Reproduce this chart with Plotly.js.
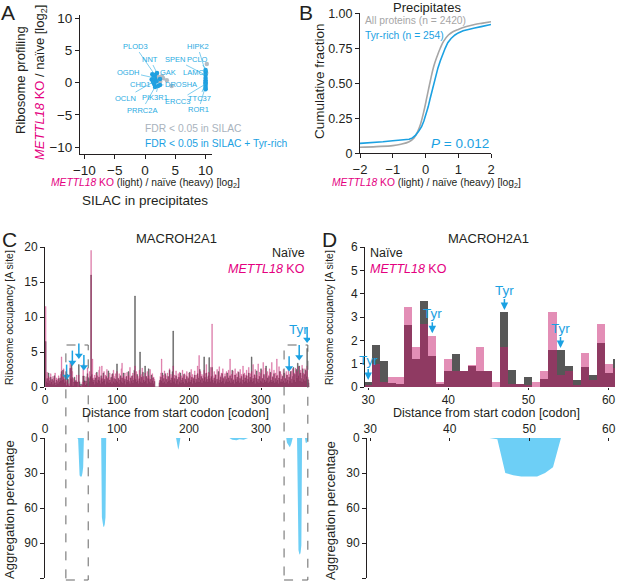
<!DOCTYPE html>
<html>
<head>
<meta charset="utf-8">
<script src="https://cdn.plot.ly/plotly-3.0.1.min.js"></script>
<style>body{margin:0;background:#fff}#fig{width:617px;height:585px}</style>
</head>
<body>
<div id="fig"></div>
<script>
// ---- panel A: SILAC vs ribosome profiling ----
var sigX = [1.9, 2.5, 3.0, 3.6, 4.4, 2.2, 2.8, 10.2, 10.1];
var sigY = [1.4, 0.15, 0.68, 0.4, -0.5, 0.9, 1.0, 2.9, 1.5];
var tyrX = [1.65, 1.98, 1.65, 2.48, 1.49, 2.48, 1.32, 2.15, 1.65, 1.2, 1.4, 1.8, 1.1, 1.9, 1.5,
            10, 10, 10, 10, 10, 10, 10, 10, 10, 10, 10];
var tyrY = [1.19, 1.5, 0.73, 0.57, 0.1, -0.36, 0.1, -0.5, -0.67, 1.3, 0.9, 0.4, 0.5, 0.2, -0.2,
            1.97, 1.66, 1.19, 0.73, 0.4, 0.1, -0.05, -0.2, -0.5, -0.8, -1.0];
var geneNames = ['PLOD3', 'NNT', 'OGDH', 'GAK', 'CHD1', 'DROSHA', 'OCLN', 'PIK3R1', 'PRRC2A',
                 'SPEN', 'HIPK2', 'PCLO', 'LAMC2', 'ERCC3', 'TTC37', 'ROR1'];
var geneX = [1.65, 1.98, 1.65, 2.48, 1.49, 2.48, 1.32, 2.15, 1.65, 10, 10, 10.2, 10, 10, 10, 10];
var geneY = [1.19, 1.5, 0.73, 0.57, 0.1, -0.36, 0.1, -0.5, -0.67, 1.19, 1.66, 1.97, 0.73, -0.2, -0.05, -0.5];

// ---- panel B: cumulative fraction ----
var allX = [-2, -1.5, -1, -0.75, -0.5, -0.35, -0.25, -0.15, -0.05, 0.05, 0.15, 0.25, 0.35, 0.45,
            0.55, 0.7, 0.85, 1, 1.25, 1.5, 1.75, 2];
var allY = [0.043, 0.048, 0.055, 0.065, 0.083, 0.11, 0.15, 0.21, 0.3, 0.41, 0.52, 0.62, 0.69, 0.75,
            0.8, 0.845, 0.87, 0.885, 0.905, 0.92, 0.93, 0.94];
var tyrCdfX = [-2, -1.6, -1.3, -1.0, -0.7, -0.5, -0.4, -0.3, -0.2, -0.12, -0.05, 0.02, 0.08, 0.14, 0.2,
               0.26, 0.32, 0.38, 0.45, 0.52, 0.6, 0.68, 0.78, 0.9, 1.0, 1.15, 1.3, 1.5, 1.7, 2];
var tyrCdfY = [0.071, 0.075, 0.083, 0.09, 0.093, 0.1, 0.11, 0.13, 0.16, 0.19, 0.23, 0.28, 0.33, 0.39, 0.45,
               0.51, 0.56, 0.61, 0.66, 0.71, 0.75, 0.79, 0.82, 0.845, 0.86, 0.875, 0.885, 0.895, 0.905, 0.92];

// ---- panels C/D: ribosome occupancy per codon (codon 0..367) ----
var naive = [
 0, 6.5, 0.8, 1.2, 0.6, 2.0, 0.9, 0.5, 1.4, 0.7,
 1.1, 0.4, 0.9, 1.6, 0.6, 0.3, 1.0, 0.8, 0.5, 1.2,
 0.7, 1.3, 0.9, 2.2, 1.0, 2.4, 1.1, 0.6, 1.5, 0.8,
 0.2, 1.8, 1.1, 0.18, 0.15, 2.67, 1.2, 3.67, 1.35, 0.15,
 0.7, 1.4, 0.7, 0.9, 0.7, 0.7, 0, 3.2, 0.75, 0.15,
 0.43, 0, 0.35, 1.57, 1.57, 0.9, 0.3, 0.85, 0.5, 1.9,
 0.6, 1.2, 0.8, 1.5, 16.0, 1.8, 1.2, 0.7, 1.0, 0.4,
 1.3, 0.8, 2.1, 0.6, 1.0, 1.4, 0.9, 0.5, 1.6, 1.2,
 0.7, 2.0, 0.9, 1.1, 0.4, 1.5, 0.8, 1.2, 2.3, 0.6,
 1.0, 0.7, 1.4, 0.5, 1.9, 0.8, 1.2, 0.6, 1.1, 0.9,
 3.3, 0.7, 1.2, 0.5, 1.0, 1.6, 0.8, 1.3, 0.6, 2.0,
 0.9, 1.1, 0.4, 1.5, 0.7, 1.0, 2.2, 0.8, 0.5, 1.3,
 0.9, 1.6, 0.6, 1.0, 2.4, 13.0, 1.1, 0.7, 1.8, 0.9,
 0.5, 1.2, 5.0, 0.8, 1.4, 0.6, 2.1, 1.0, 0.7, 3.0,
 0.9, 1.5, 0.5, 1.2, 2.6, 0.8, 1.1, 0.6, 1.7, 0.9,
 1.3, 0.5, 0.8, 0, 0, 0, 0, 0, 0, 0.6,
 1.0, 1.4, 0.9, 2.0, 0.6, 1.2, 0.8, 1.9, 0.5, 1.1,
 0.7, 1.5, 0.9, 2.4, 1.0, 0.6, 1.3, 2.2, 8.0, 0.8,
 1.2, 0.5, 1.6, 0.9, 1.1, 0.4, 1.4, 0.8, 2.0, 0.6,
 1.0, 1.3, 0.7, 1.8, 0.5, 1.1, 0.9, 1.5, 0.6, 1.2,
 0.8, 2.1, 0.7, 1.0, 1.4, 0.5, 1.2, 0.9, 1.7, 0.6,
 1.1, 0.8, 1.9, 1.3, 0.7, 2.5, 1.0, 1.5, 0.6, 1.2,
 0.9, 4.3, 1.4, 0.8, 2.0, 1.1, 0.7, 1.6, 4.2, 1.2,
 0.8, 1.5, 2.8, 1.0, 0.6, 1.3, 0.9, 1.7, 0.5, 1.1,
 0.8, 2.2, 0.6, 1.0, 1.4, 0.7, 1.9, 0.9, 1.2, 0.5,
 1.5, 0.8, 1.1, 2.0, 0.7, 1.3, 0.9, 1.6, 0.6, 1.2,
 2.4, 0.8, 1.0, 0.5, 1.7, 1.1, 0.7, 1.4, 0.9, 2.1,
 0.6, 1.2, 0.8, 1.5, 0.5, 1.0, 1.8, 0.7, 1.3, 0.9,
 1.6, 0.6, 1.1, 2.0, 0.8, 1.4, 1.0, 4.3, 0.7, 1.2,
 0.9, 1.7, 0.5, 1.3, 2.3, 0.8, 1.1, 0.6, 1.5, 0.9,
 2.6, 0.8, 1.2, 0.6, 1.8, 1.0, 0.7, 3.0, 0.9, 1.3,
 0.6, 1.5, 0.8, 2.1, 1.0, 0.7, 1.4, 0.9, 1.9, 0.6,
 1.2, 0.8, 1.6, 1.0, 0.5, 1.3, 2.2, 0.8, 1.1, 0.7,
 1.5, 0.9, 2.0, 0.6, 1.2, 0.8, 1.7, 1.0, 0.5, 1.4,
 0.9, 2.2, 1.1, 0.6, 1.5, 2.8, 1.0, 1.8, 0.7, 2.5,
 1.3, 3.4, 1.6, 3.0, 0.9, 2.0, 1.2, 0.7, 2.6, 1.1,
 1.8, 0.9, 2.4, 1.5, 5.5, 1.0, 0.6, 0
];
var ko = [
 0, 11.5, 1.0, 2.1, 0.8, 1.5, 1.3, 0.7, 1.9, 1.0,
 0.6, 1.5, 1.2, 0.8, 2.0, 0.5, 1.3, 1.1, 0.9, 1.6,
 1.0, 0.7, 1.8, 4.3, 1.4, 1.2, 2.6, 0.9, 1.1, 1.7,
 0.1, 1.0, 0.2, 0.45, 0.45, 3.43, 1.7, 2.7, 2.2, 0.2,
 1.2, 0.7, 0.7, 0.95, 1.7, 0.7, 0.2, 1.7, 0.15, 0.15,
 0.1, 0.2, 0.7, 3.2, 0.5, 0.7, 0.1, 1.47, 0.28, 2.7,
 1.0, 0.8, 2.2, 1.0, 19.5, 1.2, 4.0, 1.3, 0.6, 1.7,
 0.9, 2.0, 1.2, 1.6, 0.7, 2.4, 2.9, 1.0, 1.3, 3.0,
 1.1, 1.5, 2.2, 0.8, 1.7, 1.2, 2.5, 0.9, 1.4, 1.0,
 2.0, 1.2, 0.8, 1.8, 1.1, 2.4, 0.7, 1.5, 1.9, 1.0,
 2.2, 1.3, 0.9, 1.9, 1.4, 1.1, 2.6, 3.4, 1.0, 1.5,
 1.2, 2.0, 0.8, 1.4, 2.1, 0.9, 1.6, 1.3, 2.8, 1.0,
 1.5, 0.8, 2.0, 1.2, 1.7, 3.0, 1.3, 2.2, 0.9, 1.5,
 1.1, 2.4, 1.6, 1.0, 1.8, 2.7, 1.2, 1.5, 0.8, 2.0,
 1.4, 1.0, 2.2, 0.9, 1.6, 1.3, 2.5, 1.0, 1.2, 1.9,
 0.8, 1.4, 1.1, 0, 0, 0, 0, 0, 0, 0.9,
 1.5, 2.0, 4.0, 1.3, 1.7, 1.0, 2.3, 1.2, 1.6, 0.9,
 2.0, 1.1, 1.4, 2.6, 1.2, 1.8, 0.9, 1.5, 3.0, 1.3,
 1.7, 1.0, 2.3, 1.4, 0.8, 1.9, 1.2, 2.1, 1.0, 1.6,
 1.3, 2.4, 1.0, 1.5, 1.9, 0.8, 1.7, 2.2, 1.1, 1.4,
 2.0, 1.0, 1.6, 2.5, 1.2, 1.8, 0.9, 1.4, 2.3, 1.1,
 1.7, 1.3, 3.0, 1.5, 4.5, 1.0, 2.2, 1.3, 1.8, 1.0,
 1.6, 2.4, 1.2, 1.9, 3.2, 1.4, 1.0, 2.1, 2.0, 1.5,
 2.8, 1.2, 9.0, 1.6, 1.1, 2.2, 1.4, 1.8, 1.0, 2.5,
 1.3, 1.7, 2.9, 1.1, 1.6, 2.0, 1.2, 2.6, 1.4, 1.0,
 1.9, 1.3, 2.2, 1.5, 1.0, 2.4, 1.3, 4.0, 1.2, 1.8,
 1.5, 2.3, 1.1, 1.7, 2.6, 1.3, 1.9, 1.0, 2.2, 1.6,
 1.2, 2.5, 1.4, 1.8, 1.0, 3.0, 1.5, 2.0, 1.3, 1.7,
 2.4, 1.1, 1.6, 2.8, 1.3, 1.9, 1.0, 2.2, 1.5, 3.2,
 1.2, 1.8, 2.5, 1.4, 1.7, 1.1, 3.3, 1.5, 2.1, 1.3,
 1.9, 2.4, 1.2, 3.5, 1.6, 1.0, 2.7, 1.4, 1.9, 2.2,
 1.1, 1.7, 2.6, 1.3, 2.0, 3.5, 1.5, 1.2, 2.4, 1.6,
 2.0, 1.3, 4.0, 1.7, 1.2, 2.9, 1.5, 2.2, 1.8, 1.1,
 1.6, 2.5, 1.3, 1.9, 1.0, 2.2, 1.4, 1.7, 2.8, 1.2,
 1.8, 1.4, 2.3, 1.1, 2.6, 1.6, 2.0, 1.3, 2.7, 1.5,
 2.2, 1.4, 2.9, 1.8, 1.2, 2.4, 1.6, 3.1, 1.5, 2.0,
 1.3, 2.6, 1.7, 2.2, 3.0, 1.4, 1.0, 0
];
var tyrCodons = [30, 38, 47, 54, 339, 353, 364];
var boxCodons = [[29, 60], [332, 365]];

// aggregation percentage (sparse, codon / percent)
var aggCodon = [0, 45, 46, 47, 48, 49, 50, 51, 52, 53, 54,
                78, 79, 80, 81, 82, 83, 84, 85,
                182, 184, 185, 186, 188,
                256, 260, 266, 270, 276, 282,
                335, 336, 338, 340, 342, 344,
                350, 351, 352, 353, 354, 355, 356, 357,
                361, 362, 364, 365, 368];
var aggPct = [0, 0, 1, 30, 32, 33, 33, 33, 30, 25, 0,
              0, 68, 74, 76, 76, 74, 68, 0,
              0, 9, 10, 8, 0,
              0, 1.5, 2, 1, 1.5, 0,
              0, 4, 6, 8, 5, 0,
              0, 90, 96, 99, 100, 98, 92, 0,
              0, 4, 4, 0, 0];

var W = 617, H = 585;
function fx(p) { return p / W; }
function fy(p) { return 1 - p / H; }

var ink = '#231f20';
var magenta = '#e4007f';
var blue = '#1ba1e2';
var gray = '#575757';
var pink = 'rgba(200,30,110,0.5)';
var sans = 'Liberation Sans, Arial, sans-serif';
var mk = '<span style="color:' + magenta + '"><i>METTL18</i> KO</span>';

function ax(extra) {
    return Object.assign({
        showgrid: false, zeroline: false, showline: true, linecolor: ink, linewidth: 1,
        ticks: 'outside', ticklen: 4, tickwidth: 1, tickcolor: ink,
        tickfont: {family: sans, size: 12, color: ink}, fixedrange: true
    }, extra);
}

// Tyr arrows in panel C: shaft + head drawn on the C axes
var shaftX = [], shaftY = [], headX = [], headY = [];
tyrCodons.forEach(function (c) {
    var tip = Math.max(naive[c], ko[c]) + 0.8;
    shaftX.push(c, c, null);
    shaftY.push(tip + 2.2, tip + 0.6, null);
    headX.push(c);
    headY.push(tip + 0.5);
});

var traces = [
    {x: sigX, y: sigY, type: 'scatter', mode: 'markers', xaxis: 'x', yaxis: 'y',
     marker: {size: 4.5, color: '#b4bcc4'}},
    {x: tyrX, y: tyrY, type: 'scatter', mode: 'markers', xaxis: 'x', yaxis: 'y',
     marker: {size: 4.5, color: '#1f9fe0'}},
    {x: allX, y: allY, type: 'scatter', mode: 'lines', xaxis: 'x2', yaxis: 'y2',
     line: {color: '#a6a6a6', width: 1.6, shape: 'spline'}},
    {x: tyrCdfX, y: tyrCdfY, type: 'scatter', mode: 'lines', xaxis: 'x2', yaxis: 'y2',
     line: {color: blue, width: 1.6}},
    {y: naive, x0: 0, dx: 1, type: 'scatter', mode: 'lines', fill: 'tozeroy', xaxis: 'x3', yaxis: 'y3',
     line: {color: gray, width: 0.5, shape: 'hvh'}, fillcolor: gray},
    {y: ko, x0: 0, dx: 1, type: 'scatter', mode: 'lines', fill: 'tozeroy', xaxis: 'x3', yaxis: 'y3',
     line: {color: pink, width: 0.5, shape: 'hvh'}, fillcolor: pink},
    {x: shaftX, y: shaftY, type: 'scatter', mode: 'lines', xaxis: 'x3', yaxis: 'y3',
     line: {color: blue, width: 1.5}},
    {x: headX, y: headY, type: 'scatter', mode: 'markers', xaxis: 'x3', yaxis: 'y3',
     marker: {symbol: 'triangle-down', size: 7, color: blue}},
    {y: naive, x0: 0, dx: 1, type: 'bar', xaxis: 'x4', yaxis: 'y4', marker: {color: gray, line: {width: 0}}},
    {y: ko, x0: 0, dx: 1, type: 'bar', xaxis: 'x4', yaxis: 'y4', marker: {color: pink, line: {width: 0}}},
    {x: aggCodon, y: aggPct, type: 'scatter', mode: 'lines', fill: 'tozeroy', xaxis: 'x5', yaxis: 'y5',
     line: {width: 0, color: '#6dcff6'}, fillcolor: '#6dcff6'},
    {x: aggCodon, y: aggPct, type: 'scatter', mode: 'lines', fill: 'tozeroy', xaxis: 'x6', yaxis: 'y6',
     line: {width: 0, color: '#6dcff6'}, fillcolor: '#6dcff6'}
];

function txt(t, x, y, o) {
    return Object.assign({text: t, x: fx(x), y: fy(y), xref: 'paper', yref: 'paper', showarrow: false,
        xanchor: 'center', yanchor: 'middle', font: {family: sans, size: 13, color: ink}}, o || {});
}
function f(size, color) { return {family: sans, size: size, color: color || ink}; }

var notes = [
    txt('A', 8, 12, {font: f(21)}),
    txt('B', 306, 12, {font: f(21)}),
    txt('C', 9, 239, {font: f(21)}),
    txt('D', 329, 239, {font: f(21)}),
    txt('Ribosome profiling', 21, 80, {textangle: -90}),
    txt(mk + ' / naïve [log<sub>2</sub>]', 41, 83, {textangle: -90}),
    txt(mk + ' (light) / naïve (heavy) [log<sub>2</sub>]', 145, 183, {font: f(10.3)}),
    txt('SILAC in precipitates', 145, 200, {font: f(13.5)}),
    txt('FDR < 0.05 in SILAC', 143, 128, {xanchor: 'left', font: f(10.3, '#a9b3bd')}),
    txt('FDR < 0.05 in SILAC + Tyr-rich', 143, 143, {xanchor: 'left', font: f(10.3, blue)}),
    txt('Precipitates', 427, 8),
    txt('All proteins (n = 2420)', 363, 21, {xanchor: 'left', font: f(10.3, '#a6a6a6')}),
    txt('Tyr-rich (n = 254)', 363, 35, {xanchor: 'left', font: f(10.3, blue)}),
    txt('<i>P</i> = 0.012', 491, 143, {xanchor: 'right', font: f(13.5, blue)}),
    txt(mk + ' (light) / naïve (heavy) [log<sub>2</sub>]', 426, 183, {font: f(10.3)}),
    txt('Cumulative fraction', 320, 81, {textangle: -90, font: f(13.5)}),
    txt('MACROH2A1', 177, 238),
    txt('Naïve', 307, 253, {xanchor: 'right', font: f(12.5)}),
    txt(mk, 307, 269, {xanchor: 'right', font: f(12.5)}),
    txt('Ribosome occupancy [A site]', 9, 318, {textangle: -90, font: f(10.5)}),
    txt('Distance from start codon [codon]', 175, 413, {font: f(12.5)}),
    txt('Tyr', 298, 329, {font: f(13.5, blue)}),
    txt('Aggregation percentage', 9, 510, {textangle: -90}),
    txt('MACROH2A1', 488, 238),
    txt('Naïve', 368, 253, {xanchor: 'left', font: f(12.5)}),
    txt(mk, 368, 269, {xanchor: 'left', font: f(12.5)}),
    txt('Ribosome occupancy [A site]', 329, 318, {textangle: -90, font: f(10.5)}),
    txt('Distance from start codon [codon]', 487, 413, {font: f(12.5)}),
    txt('Aggregation percentage', 330, 510, {textangle: -90})
];

// gene labels with leader lines (pixel offsets of each label from its point)
var labelAx = [-20, -7, -27, 8, -14, 21, -28, -3, -13, -31, -8, -9, -10, -28, -6, -7];
var labelAy = [-29, -14, -6, -7, 2, -1, 16, 12, 23, -16, -26, -11, -6, 17, 15, 24];
geneNames.forEach(function (g, i) {
    notes.push({text: g, x: geneX[i], y: geneY[i], xref: 'x', yref: 'y', ax: labelAx[i], ay: labelAy[i],
        showarrow: true, arrowhead: 0, arrowwidth: 0.6, arrowcolor: '#29abe2', standoff: 0,
        font: f(7.5, '#29abe2')});
});

// Tyr labels with arrows in panel D
tyrCodons.forEach(function (c) {
    if (c > 60) return;
    var top = Math.max(naive[c], ko[c]);
    notes.push({text: 'Tyr', x: c, y: top + 0.1, xref: 'x4', yref: 'y4', ax: 0, ay: -20,
        showarrow: true, arrowhead: 2, arrowsize: 1, arrowwidth: 1.5, arrowcolor: blue, standoff: 0,
        font: f(13.5, blue)});
});

var cDom = [fx(45), fx(310)], cRange = [0, 368];
function codonPaper(c) { return cDom[0] + (c - cRange[0]) / (cRange[1] - cRange[0]) * (cDom[1] - cDom[0]); }
var boxTop = fy(387) + 6 / 20 * (fy(247) - fy(387));
var shapes = boxCodons.map(function (b) {
    return {type: 'rect', xref: 'paper', yref: 'paper', x0: codonPaper(b[0]), x1: codonPaper(b[1]),
        y0: fy(580), y1: boxTop, line: {color: '#666', width: 1, dash: 'dash'}};
});

var layout = {
    width: W, height: H, margin: {l: 0, r: 0, t: 0, b: 0},
    paper_bgcolor: '#fff', plot_bgcolor: 'rgba(0,0,0,0)',
    showlegend: false, barmode: 'overlay', bargap: 0,
    font: {family: sans, color: ink},
    xaxis: ax({domain: [fx(80), fx(212)], range: [-10.73, 11.06], tickvals: [-10, -5, 0, 5, 10], anchor: 'y',
        tickfont: f(13.5)}),
    yaxis: ax({domain: [fy(154), fy(15)], range: [-11.05, 10.5], tickvals: [-10, -5, 0, 5, 10], anchor: 'x',
        tickfont: f(13.5)}),
    xaxis2: ax({domain: [fx(360), fx(491)], range: [-2, 2], tickvals: [-2, -1, 0, 1, 2], anchor: 'y2',
        tickfont: f(13)}),
    yaxis2: ax({domain: [fy(153.3), fy(13.3)], range: [0, 1], tickvals: [0, 0.25, 0.5, 0.75, 1],
        ticktext: ['0', '0.25', '0.50', '0.75', '1.00'], anchor: 'x2', tickfont: f(12.5)}),
    xaxis3: ax({domain: cDom, range: cRange, tickvals: [0, 100, 200, 300], showline: false, ticklen: 2, anchor: 'y3'}),
    yaxis3: ax({domain: [fy(387), fy(247)], range: [0, 20], tickvals: [0, 5, 10, 15, 20], anchor: 'x3'}),
    xaxis4: ax({domain: [fx(365), fx(615)], range: [29.6, 60.8], tickvals: [30, 40, 50, 60], showline: false, ticklen: 2, anchor: 'y4'}),
    yaxis4: ax({domain: [fy(387), fy(247)], range: [0, 6], tickvals: [0, 1, 2, 3, 4, 5, 6], anchor: 'x4'}),
    xaxis5: ax({domain: cDom, range: cRange, tickvals: [0, 100, 200, 300], side: 'top', ticks: 'inside',
        showline: false, ticklen: 3, ticklabelstandoff: 2, anchor: 'y5'}),
    yaxis5: ax({domain: [fy(578), fy(438)], range: [120, 0], tickvals: [0, 30, 60, 90, 120], anchor: 'x5'}),
    xaxis6: ax({domain: [fx(367), fx(615)], range: [29.6, 60.8], tickvals: [30, 40, 50, 60], side: 'top', ticks: 'inside',
        showline: false, ticklen: 3, ticklabelstandoff: 2, anchor: 'y6'}),
    yaxis6: ax({domain: [fy(578), fy(438)], range: [120, 0], tickvals: [0, 30, 60, 90, 120], anchor: 'x6'}),
    annotations: notes,
    shapes: shapes
};

Plotly.newPlot(document.getElementById('fig'), traces, layout, {staticPlot: true});
</script>
</body>
</html>
